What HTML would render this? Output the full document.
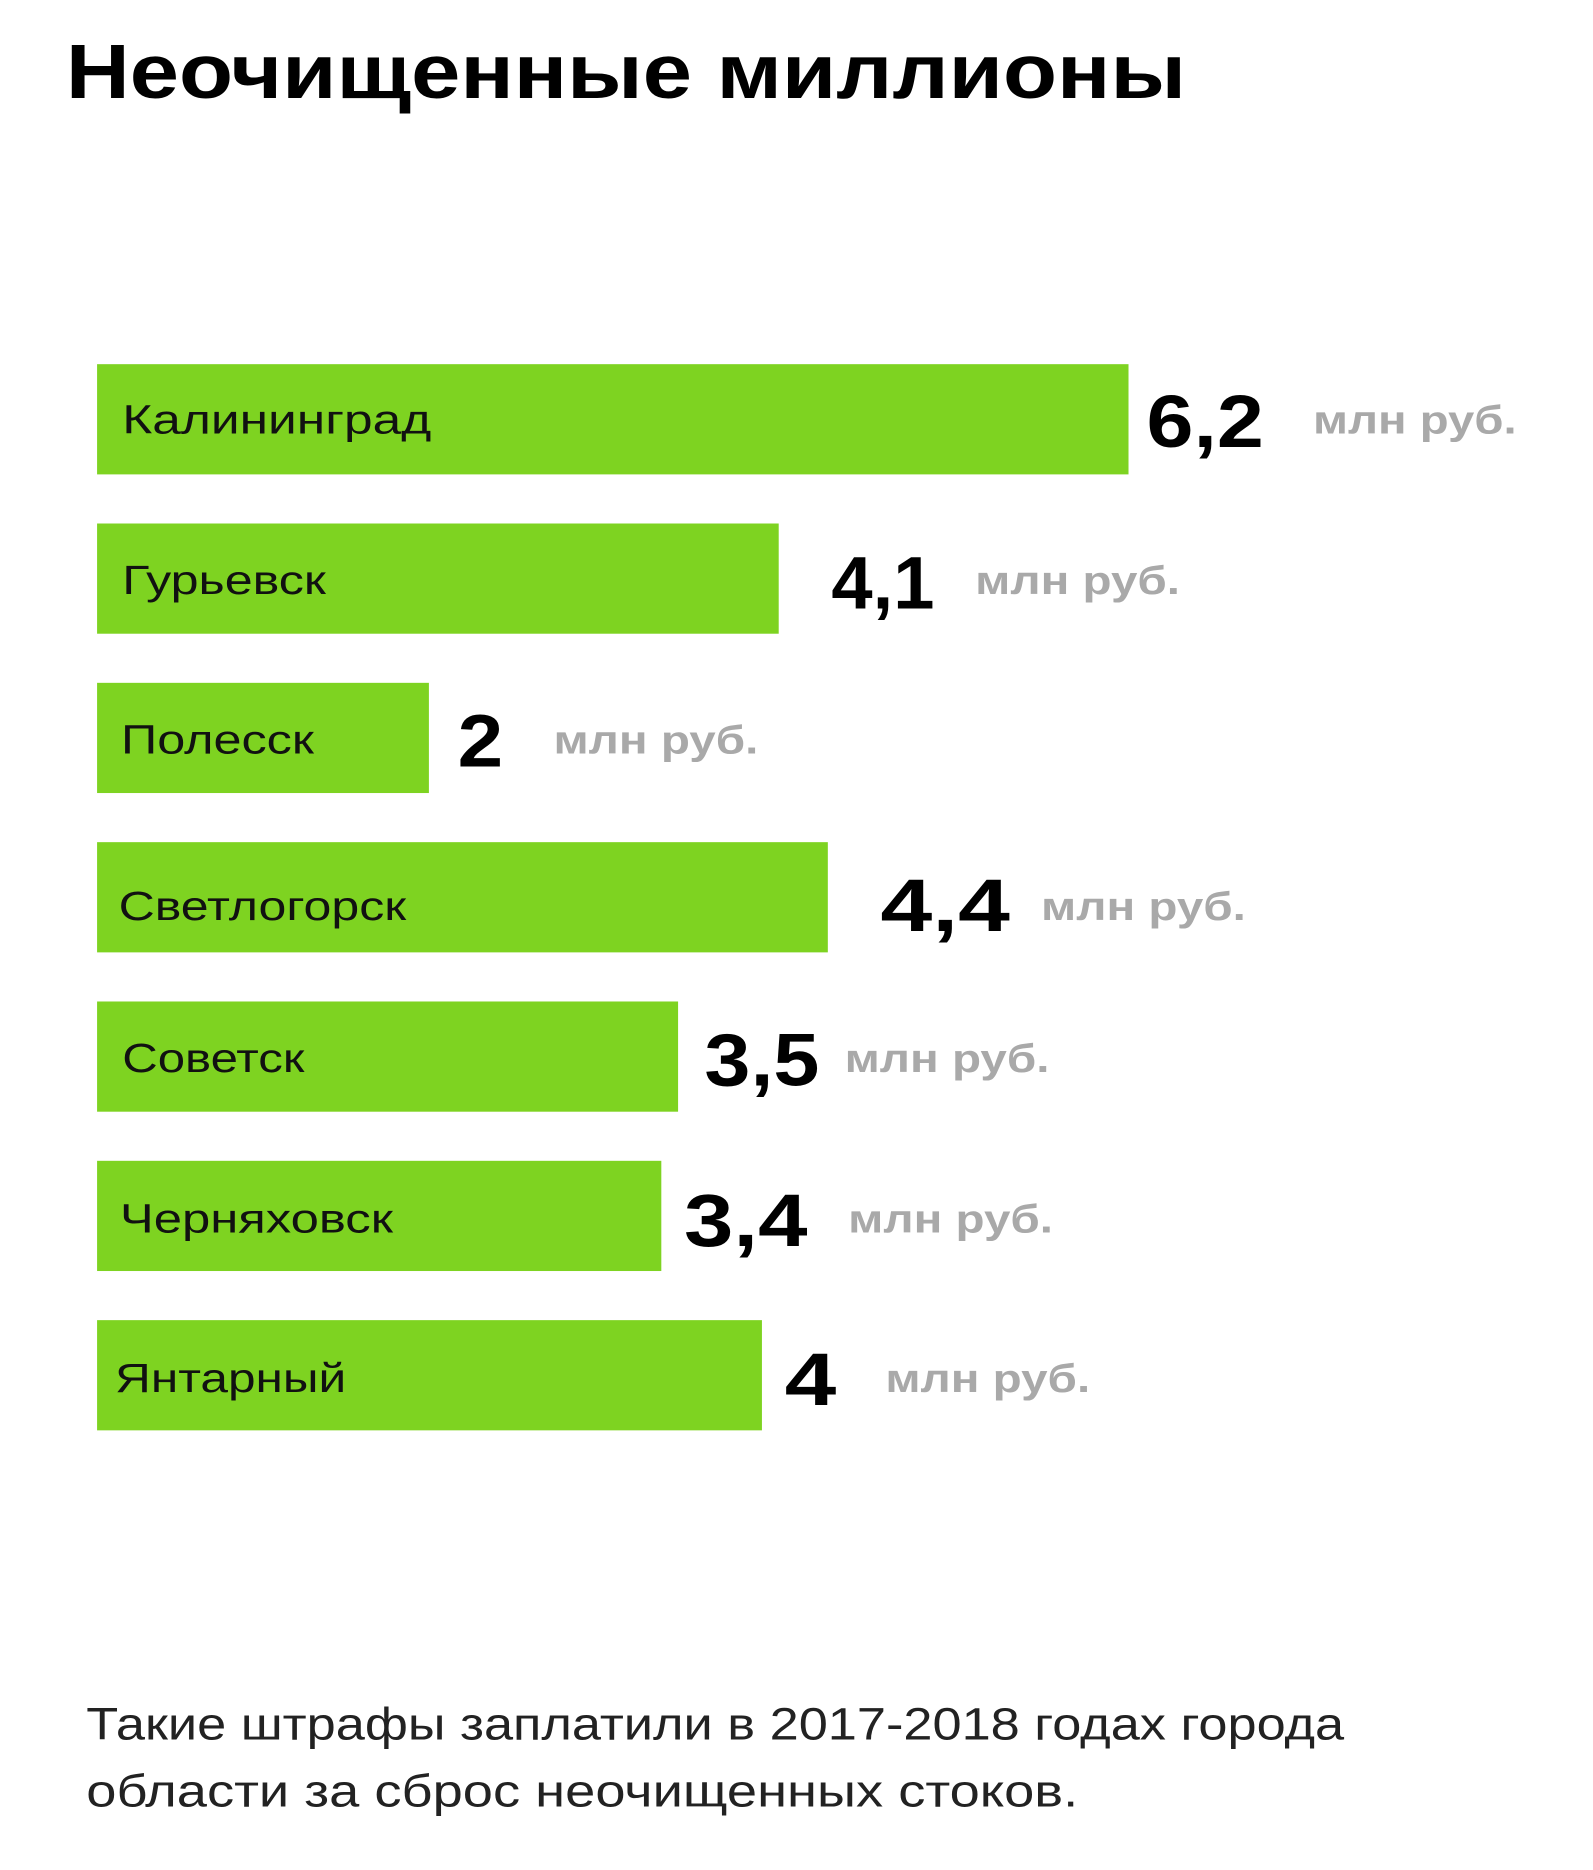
<!DOCTYPE html>
<html><head><meta charset="utf-8"><style>
html,body{margin:0;padding:0;background:#fff;}
svg{display:block;}
text{font-family:"Liberation Sans",sans-serif;}
</style></head><body>
<svg width="1593" height="1870" viewBox="0 0 1329.7 1561" xmlns="http://www.w3.org/2000/svg">
<rect width="1329.7" height="1561" fill="#fff"/>
<text x="55" y="82" font-size="64" font-weight="bold" fill="#000" textLength="935" lengthAdjust="spacingAndGlyphs">Неочищенные миллионы</text>
<g fill="#7ed321">
<rect x="81" y="304" width="861" height="92"/>
<rect x="81" y="437" width="569" height="92"/>
<rect x="81" y="570" width="277" height="92"/>
<rect x="81" y="703" width="610" height="92"/>
<rect x="81" y="836" width="485" height="92"/>
<rect x="81" y="969" width="471" height="92"/>
<rect x="81" y="1102" width="555" height="92"/>
</g>
<g font-size="34" fill="#111">
<text x="102" y="362" textLength="258" lengthAdjust="spacingAndGlyphs">Калининград</text>
<text x="102" y="496" textLength="170" lengthAdjust="spacingAndGlyphs">Гурьевск</text>
<text x="101" y="629" textLength="161" lengthAdjust="spacingAndGlyphs">Полесск</text>
<text x="99" y="768" textLength="240" lengthAdjust="spacingAndGlyphs">Светлогорск</text>
<text x="102" y="895" textLength="152" lengthAdjust="spacingAndGlyphs">Советск</text>
<text x="100" y="1029" textLength="228" lengthAdjust="spacingAndGlyphs">Черняховск</text>
<text x="96" y="1162" textLength="193" lengthAdjust="spacingAndGlyphs">Янтарный</text>
</g>
<g font-size="62" font-weight="bold" fill="#000">
<text x="957" y="373" textLength="98" lengthAdjust="spacingAndGlyphs">6,2</text>
<text x="694" y="508" textLength="86" lengthAdjust="spacingAndGlyphs">4,1</text>
<text x="382" y="640" textLength="38" lengthAdjust="spacingAndGlyphs">2</text>
<text x="735" y="777" textLength="108" lengthAdjust="spacingAndGlyphs">4,4</text>
<text x="588" y="906" textLength="96" lengthAdjust="spacingAndGlyphs">3,5</text>
<text x="571" y="1040" textLength="103" lengthAdjust="spacingAndGlyphs">3,4</text>
<text x="655" y="1173" textLength="43" lengthAdjust="spacingAndGlyphs">4</text>
</g>
<g font-size="33" font-weight="bold" fill="#a9a9a9">
<text x="1096" y="362" textLength="170" lengthAdjust="spacingAndGlyphs">млн руб.</text>
<text x="814" y="496" textLength="171" lengthAdjust="spacingAndGlyphs">млн руб.</text>
<text x="462" y="629" textLength="171" lengthAdjust="spacingAndGlyphs">млн руб.</text>
<text x="869" y="768" textLength="171" lengthAdjust="spacingAndGlyphs">млн руб.</text>
<text x="705" y="895" textLength="171" lengthAdjust="spacingAndGlyphs">млн руб.</text>
<text x="708" y="1029" textLength="171" lengthAdjust="spacingAndGlyphs">млн руб.</text>
<text x="739" y="1162" textLength="171" lengthAdjust="spacingAndGlyphs">млн руб.</text>
</g>
<g font-size="38" fill="#222">
<text x="72" y="1452" textLength="1050" lengthAdjust="spacingAndGlyphs">Такие штрафы заплатили в 2017-2018 годах города</text>
<text x="72" y="1508" textLength="828" lengthAdjust="spacingAndGlyphs">области за сброс неочищенных стоков.</text>
</g>
</svg>
</body></html>
